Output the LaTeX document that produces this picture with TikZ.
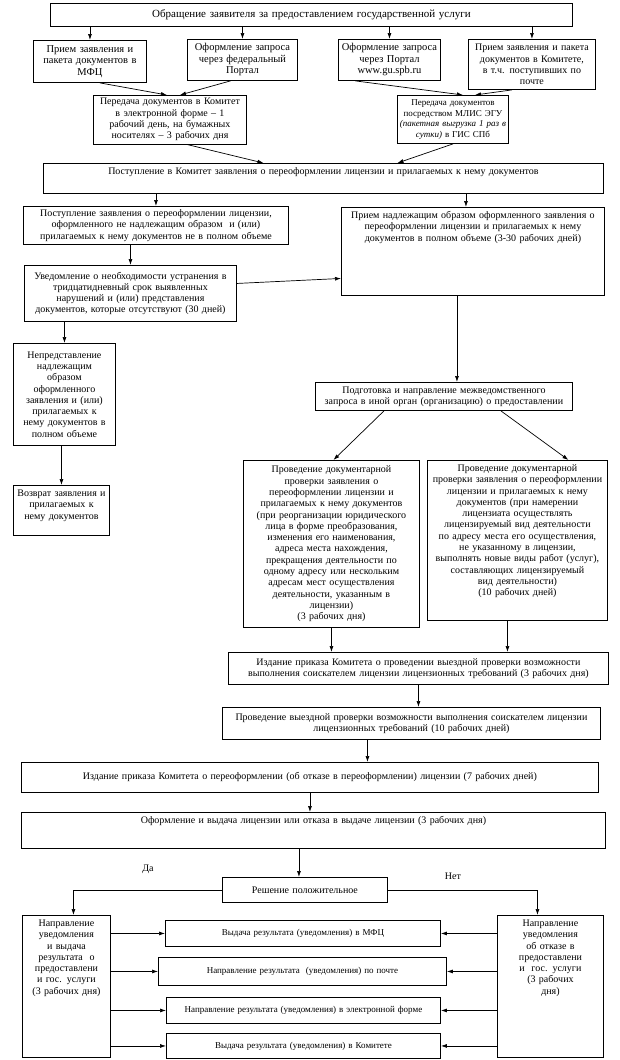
\documentclass[tikz,border=0pt]{standalone}
\usepackage{fontspec}
\setmainfont{Liberation Serif}
\usetikzlibrary{arrows.meta}

\begin{document}
\begin{tikzpicture}[x=1pt, y=-1pt,
    box/.style={draw, line width=0.9pt, align=center, anchor=north west,
      inner xsep=2pt, inner ysep=3pt, font=\fontsize{10}{11.3}\selectfont},
    arr/.style={line width=0.7pt, -{Latex[length=6pt, width=4pt]}},
    ln/.style={line width=0.7pt}]
            \useasboundingbox (0,0) rectangle (620,1060);

            % Nodes
            \node[box, text width=518pt, minimum height=23pt, font=\fontsize{11}{13}\selectfont] (t) at (50,3) {Обращение заявителя за предоставлением государственной услуги};

            \node[box, text width=109pt, minimum height=42pt, font=\fontsize{10.5}{11.5}\selectfont] (b1) at (33,40) {Прием заявления и\\пакета документов в\\МФЦ};
            \node[box, text width=106pt, minimum height=41pt, font=\fontsize{10.5}{11.5}\selectfont] (b2) at (187,39) {Оформление запроса\\через федеральный\\Портал};
            \node[box, text width=98pt, minimum height=41pt, font=\fontsize{10.5}{11.5}\selectfont] (b3) at (338,39) {Оформление запроса\\через Портал\\www.gu.spb.ru};
            \node[box, text width=123pt, minimum height=50pt] (b4) at (468,39) {Прием заявления и пакета\\документов в Комитете,\\в т.ч. поступивших по\\почте};

            \node[box, text width=149pt, minimum height=48pt] (c1) at (93,95) {Передача документов в Комитет\\в электронной форме -- 1\\рабочий день, на бумажных\\носителях -- 3 рабочих дня};
            \node[box, text width=107pt, minimum height=48pt, font=\fontsize{9}{10.8}\selectfont] (c2) at (397,95) {Передача документов\\посредством МЛИС ЭГУ\\{\itshape (пакетная выгрузка 1 раз в}\\{\itshape сутки)} в ГИС СПб};

            \node[box, text width=556pt, text height=8pt, text depth=16pt] (d) at (43,163) {Поступление в Комитет заявления о переоформлении лицензии и прилагаемых к нему документов};

            \node[box, text width=261pt, minimum height=38pt] (e1) at (23,206) {Поступление заявления о переоформлении лицензии,\\оформленного не надлежащим образом\ \ и (или)\\прилагаемых к нему документов не в полном объеме};
            \node[box, text width=259pt, text height=8pt, text depth=74pt] (e2) at (341,207) {Прием надлежащим образом оформленного заявления о\\переоформлении лицензии и прилагаемых к нему\\документов в полном объеме (3-30 рабочих дней)};

            \node[box, text width=208pt, minimum height=56pt] (f) at (24,265) {Уведомление о необходимости устранения в\\тридцатидневный срок выявленных\\нарушений и (или) представления\\документов, которые отсутствуют (30 дней)};

            \node[box, text width=98pt, minimum height=102pt] (h) at (13,343) {Непредставление\\надлежащим\\образом\\оформленного\\заявления и (или)\\прилагаемых к\\нему документов в\\полном объеме};
            \node[box, text width=92pt, text height=8pt, text depth=36pt] (i) at (13,485) {Возврат заявления и\\прилагаемых к\\нему документов};

            \node[box, text width=253pt, minimum height=28pt] (g) at (315,382) {Подготовка и направление межведомственного\\запроса в иной орган (организацию) о предоставлении};

            \node[box, text width=172pt, minimum height=167pt] (j1) at (243,460) {Проведение документарной\\проверки заявления о\\переоформлении лицензии и\\прилагаемых к нему документов\\(при реорганизации юридического\\лица в форме преобразования,\\изменения его наименования,\\адреса места нахождения,\\прекращения деятельности по\\одному адресу или нескольким\\адресам мест осуществления\\деятельности, указанным в\\лицензии)\\(3 рабочих дня)};
            \node[box, text width=176pt, text height=8pt, text depth=146pt] (j2) at (427,460) {Проведение документарной\\проверки заявления о переоформлении\\лицензии и прилагаемых к нему\\документов (при намерении\\лицензиата осуществлять\\лицензируемый вид деятельности\\по адресу места его осуществления,\\не указанному в лицензии,\\выполнять новые виды работ (услуг),\\составляющих лицензируемый\\вид деятельности)\\(10 рабочих дней)};

            \node[box, text width=376pt, minimum height=32pt] (k) at (228,652) {Издание приказа Комитета о проведении выездной проверки возможности\\выполнения соискателем лицензии лицензионных требований (3 рабочих дня)};
            \node[box, text width=374pt, minimum height=32pt] (l) at (222,707) {Проведение выездной проверки возможности выполнения соискателем лицензии\\лицензионных требований (10 рабочих дней)};

            \node[box, text width=573pt, minimum height=30pt] (m) at (21,762) {Издание приказа Комитета о переоформлении (об отказе в переоформлении) лицензии (7 рабочих дней)};
            \node[box, text width=580pt, text height=8pt, text depth=22pt] (n) at (21,812) {Оформление и выдача лицензии или отказа в выдаче лицензии (3 рабочих дня)};

            \node[box, text width=161pt, minimum height=25pt] (r) at (222,877) {Решение положительное};
            \node[font=\fontsize{10}{12}\selectfont] (da) at (148,869) {Да};
            \node[font=\fontsize{10}{12}\selectfont] (net) at (453,876) {Нет};

            \node[box, text width=84pt, text height=8pt, text depth=128pt] (p1) at (22,915) {Направление\\уведомления\\и выдача\\результата\ \ о\\предоставлени\\и гос. услуги\\(3 рабочих дня)};
            \node[box, text width=102pt, text height=8pt, text depth=128pt] (p2) at (497,915) {Направление\\уведомления\\об отказе в\\предоставлени\\и\ \ гос. услуги\\(3 рабочих\\дня)};

            \node[box, text width=271pt, minimum height=26pt, font=\fontsize{9}{11}\selectfont] (q1) at (165,920) {Выдача результата (уведомления) в МФЦ};
            \node[box, text width=284pt, minimum height=28pt, font=\fontsize{9}{11}\selectfont] (q2) at (158,957) {Направление результата\ \ (уведомления) по почте};
            \node[box, text width=270pt, minimum height=26pt, font=\fontsize{9}{11}\selectfont] (q3) at (166,997) {Направление результата (уведомления) в электронной форме};
            \node[box, text width=270pt, minimum height=25pt, font=\fontsize{9}{11}\selectfont] (q4) at (166,1033) {Выдача результата (уведомления) в Комитете};

            % Edges
            \draw[arr] (t.south -| b1) -- (b1);
            \draw[arr] (t.south -| b2) -- (b2);
            \draw[arr] (t.south -| b3) -- (b3);
            \draw[arr] (t.south -| b4) -- (b4);

            \draw[arr] ([xshift=10pt]b1.south) -- ([xshift=-3pt]c1.north);
            \draw[arr] ([xshift=-12pt]b2.south) -- ([xshift=10pt]c1.north);
            \draw[arr] ([xshift=-34pt]b3.south) -- ([xshift=10pt]c2.north);
            \draw[arr] ([xshift=-20pt]b4.south) -- ([xshift=22pt]c2.north);

            \draw[arr] ([xshift=17pt]c1.south) -- ([xshift=-60pt]d.north);
            \draw[arr] (c2.south) -- ([xshift=74pt]d.north);

            \draw[arr] (d.south -| e1) -- (e1);
            \draw[arr] ([xshift=-7pt]e2.north |- d.south) -- ([xshift=-7pt]e2.north);

            \draw[arr] (e1.south -| f) -- (f);
            \draw[arr] ([yshift=10pt]f.east) -- ([yshift=-27pt]e2.west);
            \draw[arr] (f.south -| h) -- (h);
            \draw[arr] (h.south -| i) -- (i);

            \draw[arr] ([xshift=-16pt]e2.south) -- ([xshift=-16pt]e2.south |- g.north);
            \draw[arr] ([xshift=-60pt]g.south) -- ([xshift=2pt]j1.north);
            \draw[arr] ([xshift=57pt]g.south) -- ([xshift=51pt]j2.north);

            \draw[arr] (j1.south) -- (j1.south |- k.north);
            \draw[arr] ([xshift=-10pt]j2.south) -- ([xshift=-10pt]j2.south |- k.north);
            \draw[arr] (k.south) -- (k.south |- l.north);
            \draw[arr] ([xshift=-44pt]l.south) -- ([xshift=-44pt]l.south |- m.north);
            \draw[arr] (m.south) -- (m.south |- n.north);
            \draw[arr] ([xshift=-6pt]r.north |- n.south) -- ([xshift=-6pt]r.north);

            \draw[arr] (r.west) -| ([xshift=7pt]p1.north);
            \draw[arr] (r.east) -| ([xshift=-13pt]p2.north);

            \draw[arr] (p1.east |- q1) -- (q1);
            \draw[arr] (p1.east |- q2) -- (q2);
            \draw[arr] (p1.east |- q3) -- (q3);
            \draw[arr] (p1.east |- q4) -- (q4);
            \draw[arr] (p2.west |- q1) -- (q1);
            \draw[arr] (p2.west |- q2) -- (q2);
            \draw[arr] (p2.west |- q3) -- (q3);
            \draw[arr] (p2.west |- q4) -- (q4);
\end{tikzpicture}
\end{document}
